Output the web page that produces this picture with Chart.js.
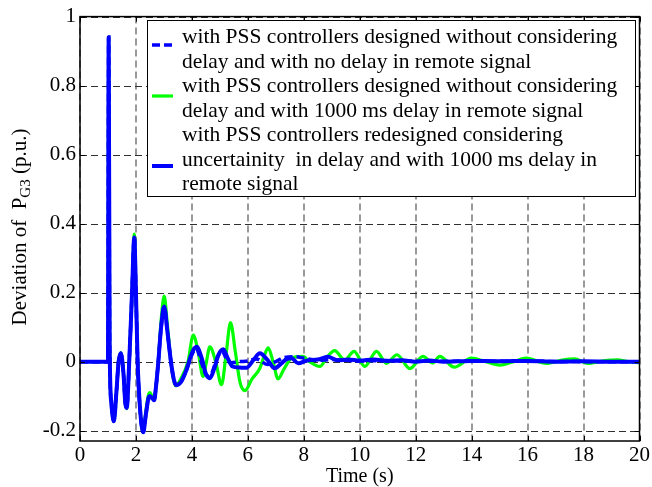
<!DOCTYPE html>
<html>
<head>
<meta charset="utf-8">
<script src="https://cdn.jsdelivr.net/npm/chart.js@4/dist/chart.umd.min.js"></script>
<style>
  html, body { margin: 0; padding: 0; background: #fff; }
</style>
</head>
<body>
<canvas id="chart" width="652" height="487"></canvas>
<script>
// tick values
const xTicks = [0, 2, 4, 6, 8, 10, 12, 14, 16, 18, 20];
const yTicks = [-0.2, 0, 0.2, 0.4, 0.6, 0.8, 1];

// PSS designed without delay, no delay in remote signal (blue dashed)
const tNoDelay = [
  0, 0.99, 1.0, 1.025, 1.06, 1.12, 1.21, 1.3, 1.38, 1.46,
  1.55, 1.62, 1.67, 1.76, 1.86, 1.94, 2.0, 2.06, 2.15, 2.26,
  2.36, 2.45, 2.5, 2.57, 2.65, 2.72, 2.8, 2.9, 3.01, 3.12,
  3.25, 3.35, 3.43, 3.6, 3.8, 4.0, 4.15, 4.35, 4.55, 4.7,
  4.9, 5.08, 5.25, 5.4, 5.7, 6.0, 6.3, 6.7, 7.0, 7.3,
  7.7, 8.0, 8.5, 9, 10, 11, 12, 14, 16, 18,
  20
];
const pNoDelay = [
  0, 0, 0, 0.94, 0.05, -0.12, -0.173, -0.09, 0.0, 0.024,
  -0.03, -0.12, -0.134, 0.0, 0.2, 0.36, 0.2, 0.0, -0.14, -0.205,
  -0.15, -0.105, -0.1, -0.105, -0.112, -0.07, 0.0, 0.1, 0.16, 0.09,
  0.0, -0.05, -0.068, -0.06, -0.025, 0.02, 0.038, -0.005, -0.042, -0.035,
  0.01, 0.03, 0.005, -0.003, 0.0, 0.002, 0.008, -0.008, 0.0, 0.012,
  0.014, 0.01, 0.004, 0.006, 0.002, 0.003, 0.001, 0.001, 0.001, 0,
  0
];

// PSS designed without delay, 1000 ms delay in remote signal (green)
const tDelay = [
  0, 0.99, 1.0, 1.025, 1.06, 1.12, 1.21, 1.3, 1.38, 1.46,
  1.55, 1.62, 1.67, 1.76, 1.86, 1.94, 2.0, 2.06, 2.15, 2.26,
  2.36, 2.45, 2.5, 2.57, 2.65, 2.72, 2.8, 2.9, 3.01, 3.12,
  3.25, 3.35, 3.43, 3.6, 3.86, 4.05, 4.22, 4.4, 4.52, 4.64,
  4.85, 5.06, 5.22, 5.38, 5.55, 5.72, 5.9, 6.15, 6.43, 6.6,
  6.73, 6.9, 7.08, 7.3, 7.56, 7.96, 8.2, 8.57, 8.85, 9.1,
  9.46, 9.8, 10.18, 10.6, 10.95, 11.33, 11.79, 12.26, 12.6, 12.86,
  13.38, 13.99, 14.5, 15.0, 15.5, 15.95, 16.67, 17.2, 17.68, 18.14,
  18.7, 19.2, 19.6, 20
];
const pDelay = [
  0, 0, 0, 0.94, 0.05, -0.12, -0.173, -0.09, 0.0, 0.026,
  -0.03, -0.12, -0.136, 0.0, 0.2, 0.37, 0.2, 0.0, -0.14, -0.205,
  -0.14, -0.095, -0.09, -0.1, -0.11, -0.07, 0.0, 0.12, 0.19, 0.11,
  0.0, -0.055, -0.07, -0.05, 0.0, 0.077, 0.03, -0.043, 0.0, 0.043,
  0.0, -0.067, 0.02, 0.113, 0.03, -0.06, -0.084, -0.05, -0.019, 0.02,
  0.04, 0.0, -0.05, -0.02, 0.01, 0.015, 0.0, -0.014, 0.015, 0.032,
  0.005, 0.03, -0.014, 0.03, -0.005, 0.02, -0.02, 0.015, -0.004, 0.015,
  -0.016, 0.01, 0.0, -0.01, 0.0, 0.01, -0.005, 0.004, 0.008, -0.005,
  0.002, 0.005, 0.0, -0.003
];

// PSS redesigned considering delay uncertainty, 1000 ms delay (blue solid)
const tRedesign = [
  0, 0.99, 1.0, 1.025, 1.06, 1.12, 1.21, 1.3, 1.38, 1.46,
  1.55, 1.62, 1.67, 1.76, 1.86, 1.94, 2.0, 2.06, 2.15, 2.26,
  2.36, 2.45, 2.5, 2.57, 2.65, 2.72, 2.8, 2.9, 3.01, 3.12,
  3.25, 3.35, 3.43, 3.6, 3.8, 4.0, 4.17, 4.35, 4.5, 4.64,
  4.8, 4.95, 5.12, 5.28, 5.45, 5.7, 5.95, 6.2, 6.43, 6.7,
  6.96, 7.2, 7.4, 7.56, 7.8, 8.1, 8.5, 8.86, 9.2, 9.6,
  10, 10.5, 11, 11.5, 12, 12.5, 13, 14, 15, 16,
  17, 18, 19, 20
];
const pRedesign = [
  0, 0, 0, 0.94, 0.05, -0.12, -0.173, -0.09, 0.0, 0.024,
  -0.03, -0.12, -0.134, 0.0, 0.2, 0.36, 0.2, 0.0, -0.14, -0.205,
  -0.15, -0.105, -0.1, -0.105, -0.112, -0.07, 0.0, 0.1, 0.16, 0.09,
  0.0, -0.05, -0.068, -0.06, -0.025, 0.025, 0.043, 0.01, -0.035, -0.048,
  -0.02, 0.02, 0.036, 0.01, -0.014, -0.017, -0.018, 0.005, 0.024, 0.005,
  -0.019, -0.005, 0.008, 0.01, -0.005, 0.003, 0.006, 0.014, 0.004, 0.006,
  0.003, 0.006, 0.002, 0.004, 0.0, 0.003, 0.0, 0.002, 0.001, 0.002,
  0.0, 0.001, 0.0, 0.0
];

const legendLines = [
  ["with PSS controllers designed without considering", "delay and with no delay in remote signal"],
  ["with PSS controllers designed without considering", "delay and with 1000 ms delay in remote signal"],
  ["with PSS controllers redesigned considering", "uncertainity  in delay and with 1000 ms delay in", "remote signal"]
];

const serif = "'Liberation Serif', 'Times New Roman', serif";
const pts = (t, p) => t.map((v, i) => ({ x: v, y: p[i] }));

// dashed grid behind the curves, like matlab's grid on
const gridPlugin = {
  id: "matlabGrid",
  beforeDatasetsDraw(chart) {
    const { ctx, chartArea: a, scales: { x, y } } = chart;
    ctx.save();
    ctx.setLineDash([7, 4]);
    ctx.lineWidth = 1.6;
    ctx.strokeStyle = "#808080";
    x.ticks.forEach(t => {
      const px = Math.round(x.getPixelForValue(t.value));
      ctx.beginPath(); ctx.moveTo(px, a.top); ctx.lineTo(px, a.bottom); ctx.stroke();
    });
    ctx.lineWidth = 1;
    ctx.strokeStyle = "#303030";
    y.ticks.forEach(t => {
      const py = Math.round(y.getPixelForValue(t.value)) + 0.5;
      ctx.beginPath(); ctx.moveTo(a.left, py); ctx.lineTo(a.right, py); ctx.stroke();
    });
    ctx.restore();
  }
};

// box, inward ticks, legend, y title with subscript
const framePlugin = {
  id: "matlabFrame",
  afterDatasetsDraw(chart) {
    const { ctx, chartArea: a, scales: { x, y } } = chart;
    ctx.save();
    ctx.setLineDash([]);
    ctx.strokeStyle = "#000";
    ctx.lineWidth = 1.5;
    ctx.strokeRect(a.left, a.top, a.right - a.left, a.bottom - a.top);
    ctx.lineWidth = 1;
    ctx.beginPath();
    x.ticks.forEach(t => {
      const px = Math.round(x.getPixelForValue(t.value)) + 0.5;
      ctx.moveTo(px, a.bottom); ctx.lineTo(px, a.bottom - 5);
      ctx.moveTo(px, a.top); ctx.lineTo(px, a.top + 5);
    });
    y.ticks.forEach(t => {
      const py = Math.round(y.getPixelForValue(t.value)) + 0.5;
      ctx.moveTo(a.left, py); ctx.lineTo(a.left + 5, py);
      ctx.moveTo(a.right, py); ctx.lineTo(a.right - 5, py);
    });
    ctx.stroke();

    // legend box
    const bx = 147, by = 20, bw = 488, bh = 176;
    ctx.fillStyle = "#fff";
    ctx.fillRect(bx, by, bw, bh);
    ctx.strokeRect(bx + 0.5, by + 0.5, bw, bh);
    const sampleY = [45, 96, 166];
    let line = 0;
    chart.data.datasets.forEach((ds, i) => {
      ctx.save();
      ctx.strokeStyle = ds.borderColor;
      ctx.lineWidth = ds.borderWidth;
      ctx.setLineDash(ds.borderDash || []);
      ctx.beginPath();
      ctx.moveTo(152, sampleY[i]); ctx.lineTo(173, sampleY[i]);
      ctx.stroke();
      ctx.restore();
      ctx.fillStyle = "#000";
      ctx.font = "21.5px " + serif;
      ctx.textBaseline = "alphabetic";
      ctx.textAlign = "left";
      legendLines[i].forEach(txt => {
        ctx.fillText(txt, 182, 43 + line * 24.5);
        line++;
      });
    });

    // y axis title: Deviation of  P_G3 (p.u.)
    ctx.translate(20, 227);
    ctx.rotate(-Math.PI / 2);
    const big = "21px " + serif, small = "15px " + serif;
    const parts = [["Deviation of  P", big, 0], ["G3", small, 6], [" (p.u.)", big, 0]];
    let total = 0;
    parts.forEach(p => { ctx.font = p[1]; total += ctx.measureText(p[0]).width; });
    let cx = -total / 2;
    ctx.textBaseline = "middle";
    ctx.textAlign = "left";
    parts.forEach(p => {
      ctx.font = p[1];
      ctx.fillText(p[0], cx, p[2]);
      cx += ctx.measureText(p[0]).width;
    });
    ctx.restore();
  }
};

new Chart(document.getElementById("chart"), {
  type: "line",
  data: {
    datasets: [
      {
        label: "no delay",
        data: pts(tNoDelay, pNoDelay),
        borderColor: "#0000ff",
        borderWidth: 3.5,
        borderDash: [8, 4],
        order: 0
      },
      {
        label: "1000 ms delay",
        data: pts(tDelay, pDelay),
        borderColor: "#00ff00",
        borderWidth: 3.2,
        order: 2
      },
      {
        label: "redesigned",
        data: pts(tRedesign, pRedesign),
        borderColor: "#0000ff",
        borderWidth: 4,
        order: 1
      }
    ]
  },
  options: {
    responsive: false,
    animation: false,
    layout: { padding: { left: 0, right: 11, top: 15, bottom: 0 } },
    elements: {
      point: { radius: 0 },
      line: { cubicInterpolationMode: "monotone", fill: false }
    },
    plugins: {
      legend: { display: false },
      tooltip: { enabled: false }
    },
    scales: {
      x: {
        type: "linear",
        min: 0,
        max: 20,
        afterBuildTicks: s => { s.ticks = xTicks.map(v => ({ value: v })); },
        afterFit: s => { s.height = 46; },
        grid: { display: false, drawTicks: false },
        border: { display: false },
        ticks: {
          color: "#000",
          font: { family: serif, size: 21, lineHeight: 1.2 },
          padding: 2,
          maxRotation: 0,
          autoSkip: false
        },
        title: {
          display: true,
          text: "Time (s)",
          color: "#000",
          font: { family: serif, size: 20, lineHeight: 1 },
          padding: { top: 0, bottom: 0 }
        }
      },
      y: {
        min: -0.23,
        max: 1,
        afterBuildTicks: s => { s.ticks = yTicks.map(v => ({ value: v })); },
        afterFit: s => { s.width = 80; },
        grid: { display: false, drawTicks: false },
        border: { display: false },
        ticks: {
          color: "#000",
          font: { family: serif, size: 21 },
          padding: 4,
          callback: v => String(Math.round(v * 10) / 10)
        }
      }
    }
  },
  plugins: [gridPlugin, framePlugin]
});
</script>
</body>
</html>
